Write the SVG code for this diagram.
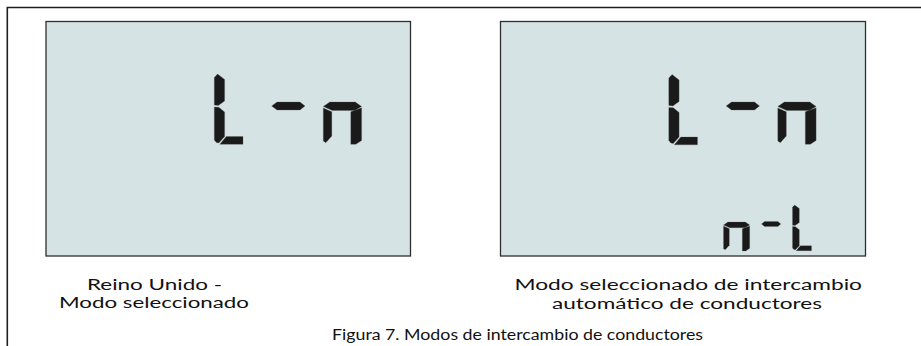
<svg xmlns="http://www.w3.org/2000/svg" xmlns:xlink="http://www.w3.org/1999/xlink" width="921" height="346" viewBox="0 0 921 346">
<style>
.panel{fill:#d6e3e4;stroke:#2e2e2e;stroke-width:1.3}
.seg{fill:#1a1a1a;stroke:#555;stroke-width:0.3}
.lbl{font-family:Lato,"Open Sans","Noto Sans",sans-serif;font-size:15.6px;fill:#111}
.frame{fill:none;stroke:#1e1e1e;stroke-width:1.6}
</style>
<defs>
<g id="gL">
<polygon class="seg" points="0,3.5 3.3,0 10.3,5.5 10.3,27 4,31.5 0,31"/>
<polygon class="seg" points="0,33 4.5,33.3 10.3,38 10.3,62.5 4.5,69 2,68.5 0,66"/>
<polygon class="seg" points="5.5,70.3 12,62.5 28.7,62.5 28.7,70.3"/>
</g>
<g id="gDash">
<polygon class="seg" points="0,4 5.3,0 28.3,0 33.3,4 28.3,8 5.3,8"/>
</g>
<g id="gN">
<polygon class="seg" points="0,4.5 6.5,0 32,0 38.3,4.5 31.5,8.5 9,8.5"/>
<polygon class="seg" points="0,6 8.5,9.8 8.5,34 2.5,40.7 0,39"/>
<polygon class="seg" points="27.5,9.8 38.3,5.8 38.3,38.5 32.5,42.3 27.5,42.3"/>
</g>
</defs>
<path class="frame" d="M7.3,346 V7.5 H921"/>
<g id="panel-uk">
<rect class="panel" x="46" y="21.5" width="364.5" height="234.5"/>
<use xlink:href="#gL" x="214.3" y="74"/>
<use xlink:href="#gDash" x="271.7" y="102"/>
<use xlink:href="#gN" x="323.3" y="102"/>
</g>
<g id="panel-auto">
<rect class="panel" x="500.5" y="21.5" width="365" height="234.5"/>
<use xlink:href="#gL" x="668.8" y="74.5"/>
<use xlink:href="#gDash" x="726.2" y="102"/>
<use xlink:href="#gN" x="777.8" y="102"/>
<use xlink:href="#gN" transform="translate(723.5,222) scale(0.684)"/>
<use xlink:href="#gDash" transform="translate(761.5,221.5) scale(0.58,0.62)"/>
<use xlink:href="#gL" transform="translate(792.5,205) scale(0.662,0.65)"/>
</g>
<g id="labels">
<text class="lbl" x="87" y="289.5" textLength="135" lengthAdjust="spacingAndGlyphs">Reino Unido -</text>
<text class="lbl" x="59" y="308.3" textLength="190" lengthAdjust="spacingAndGlyphs">Modo seleccionado</text>
<text class="lbl" x="514.5" y="290" textLength="347.5" lengthAdjust="spacingAndGlyphs">Modo seleccionado de intercambio</text>
<text class="lbl" x="552" y="309" textLength="270" lengthAdjust="spacingAndGlyphs">automático de conductores</text>
<text class="lbl" x="332" y="340.3" textLength="371" lengthAdjust="spacingAndGlyphs">Figura 7. Modos de intercambio de conductores</text>
</g>
<g id="connectors"/>
</svg>
